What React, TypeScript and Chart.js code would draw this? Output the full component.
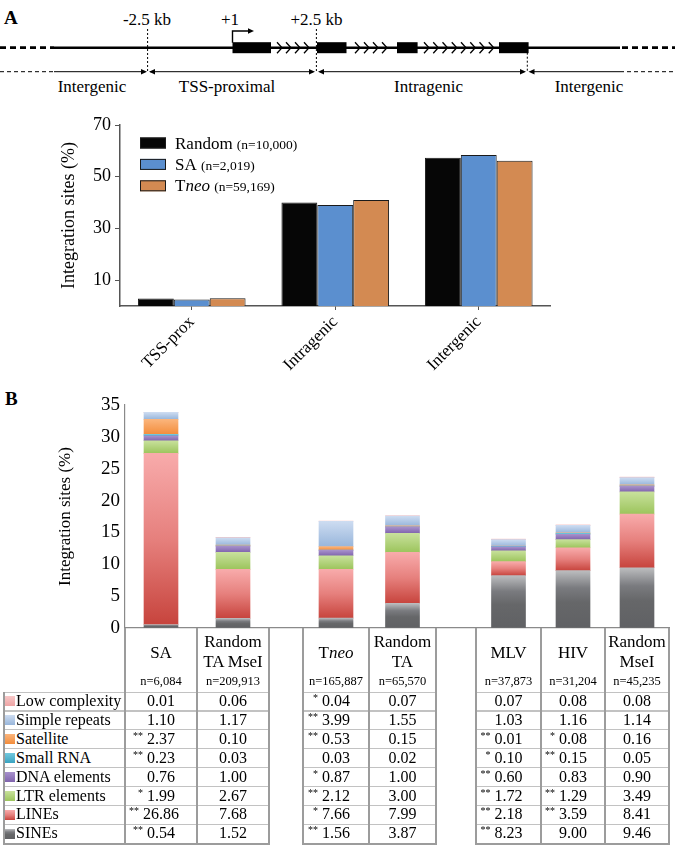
import React, { useEffect, useRef } from "react";
import { Chart, registerables } from "chart.js";

Chart.register(...registerables);

const SERIF = '"Liberation Serif", "Times New Roman", serif';

// ---------------- Panel A data ----------------
const REGIONS = ["TSS-prox", "Intragenic", "Intergenic"];
const A_SERIES = ["Random", "SA", "Tneo"];
const A_SERIES_N = ["(n=10,000)", "(n=2,019)", "(n=59,169)"];
const RANDOM_PCT = [2.9, 40.0, 57.3];
const SA_PCT = [2.5, 39.1, 58.4];
const TNEO_PCT = [3.0, 41.0, 56.2];
const A_Y_TICKS = [10, 30, 50, 70];

// ---------------- Panel B data ----------------
const SAMPLES = ["SA", "Random\nTA MseI", "Tneo", "Random\nTA", "MLV", "HIV", "Random\nMseI"];
const SAMPLE_N = ["n=6,084", "n=209,913", "n=165,887", "n=65,570", "n=37,873", "n=31,204", "n=45,235"];
const REPEAT_CLASSES = ["Low complexity", "Simple repeats", "Satellite", "Small RNA", "DNA elements", "LTR elements", "LINEs", "SINEs"];
const LOW_COMPLEXITY = [0.01, 0.06, 0.04, 0.07, 0.07, 0.08, 0.08];
const SIMPLE_REPEATS = [1.10, 1.17, 3.99, 1.55, 1.03, 1.16, 1.14];
const SATELLITE = [2.37, 0.10, 0.53, 0.15, 0.01, 0.08, 0.16];
const SMALL_RNA = [0.23, 0.03, 0.03, 0.02, 0.10, 0.15, 0.05];
const DNA_ELEMENTS = [0.76, 1.00, 0.87, 1.00, 0.60, 0.83, 0.90];
const LTR_ELEMENTS = [1.99, 2.67, 2.12, 3.00, 1.72, 1.29, 3.49];
const LINES = [26.86, 7.68, 7.66, 7.99, 2.18, 3.59, 8.41];
const SINES = [0.54, 1.52, 1.56, 3.87, 8.23, 9.00, 9.46];
const LOW_COMPLEXITY_SIG = ["", "", "*", "", "", "", ""];
const SIMPLE_REPEATS_SIG = ["", "", "**", "", "", "", ""];
const SATELLITE_SIG = ["**", "", "**", "", "**", "*", ""];
const SMALL_RNA_SIG = ["**", "", "", "", "*", "**", ""];
const DNA_ELEMENTS_SIG = ["", "", "*", "", "**", "", ""];
const LTR_ELEMENTS_SIG = ["*", "", "**", "", "**", "**", ""];
const LINES_SIG = ["**", "", "*", "", "**", "**", ""];
const SINES_SIG = ["**", "", "**", "", "**", "", ""];
const B_Y_MAX = 35;
const B_Y_STEP = 5;

const REPEAT_VALUES = [LOW_COMPLEXITY, SIMPLE_REPEATS, SATELLITE, SMALL_RNA, DNA_ELEMENTS, LTR_ELEMENTS, LINES, SINES];
const REPEAT_SIGS = [LOW_COMPLEXITY_SIG, SIMPLE_REPEATS_SIG, SATELLITE_SIG, SMALL_RNA_SIG, DNA_ELEMENTS_SIG, LTR_ELEMENTS_SIG, LINES_SIG, SINES_SIG];

// ---------------- styles / layout ----------------
const A_COLORS = ["#060606", "#5b8fcf", "#d38a52"];
const REPEAT_STOPS: [number, string][][] = [
  [[0, "#f8c8c8"], [1, "#eda4a4"]],
  [[0, "#cddcf1"], [1, "#98b6db"]],
  [[0, "#fbb57c"], [1, "#f38d3c"]],
  [[0, "#72c8de"], [1, "#3aa3c0"]],
  [[0, "#a791cc"], [1, "#8064ad"]],
  [[0, "#c8e19c"], [1, "#9cc45c"]],
  [[0, "#f8abab"], [0.5, "#e6807d"], [1, "#c7443d"]],
  [[0, "#bcbdbf"], [0.3, "#7a7b7f"], [0.55, "#666769"], [1, "#606164"]],
];
// table columns (layout): widths in px, sample index or -1 for spacer column
const COL_WIDTHS = [72, 72, 34, 66, 67, 40, 65, 64, 64];
const COL_SAMPLE = [0, 1, -1, 2, 3, -1, 4, 5, 6];
const PLOT_LEFT = 125;
const HEADER_TOP = 628;
const ROW_TOP = 692;
const ROW_H = 18.9;
const LABEL_LEFT = 4;

const COL_EDGES_REL: number[] = [0];
COL_WIDTHS.forEach((w, i) => COL_EDGES_REL.push(COL_EDGES_REL[i] + w));
const X_TOTAL = COL_EDGES_REL[COL_EDGES_REL.length - 1];
const SAMPLE_CENTER: number[] = [];
COL_SAMPLE.forEach((s, i) => {
  if (s >= 0) SAMPLE_CENTER[s] = (COL_EDGES_REL[i] + COL_EDGES_REL[i + 1]) / 2;
});

function grad(c: CanvasRenderingContext2D, y0: number, y1: number, stops: [number, string][]) {
  const g = c.createLinearGradient(0, y0, 0, y1 === y0 ? y0 + 1 : y1);
  stops.forEach(([o, col]) => g.addColorStop(o, col));
  return g;
}

const legendPluginA = {
  id: "aLegend",
  afterDraw(chart: any) {
    const { ctx, chartArea } = chart;
    ctx.save();
    chart.data.datasets.forEach((ds: any, i: number) => {
      const x = chartArea.left + 20;
      const yc = chartArea.top + 18 + i * 21.4;
      ctx.fillStyle = ds.backgroundColor;
      ctx.fillRect(x, yc - 5.5, 26, 11);
      ctx.strokeStyle = "#1a1a1a";
      ctx.lineWidth = 1;
      ctx.strokeRect(x + 0.5, yc - 5, 25, 10);
      ctx.fillStyle = "#000";
      ctx.textBaseline = "alphabetic";
      ctx.textAlign = "left";
      let tx = x + 35;
      const by = yc + 5.5;
      const name: string = ds.label;
      const parts = name === "Tneo" ? [["T", false], ["neo", true]] : [[name, false]];
      parts.forEach(([t, it]: any) => {
        ctx.font = `${it ? "italic " : ""}17px ${SERIF}`;
        ctx.fillText(t, tx, by);
        tx += ctx.measureText(t).width;
      });
      ctx.font = `17px ${SERIF}`;
      tx += ctx.measureText(" ").width;
      ctx.font = `13.5px ${SERIF}`;
      ctx.fillText(A_SERIES_N[i], tx, by);
    });
    ctx.restore();
  },
};

function GeneDiagram() {
  const Y = 47.7;
  const AY = 71.7;
  const exons = [[232.5, 271], [317, 346.5], [397, 417.6], [499, 528.6]];
  const chev = [[276, 312, 4], [354, 390, 4], [423, 497, 8]];
  const head = (x: number, y: number, dir: number, k: string) => (
    <polygon key={k} points={`${x},${y} ${x - dir * 6},${y - 2.8} ${x - dir * 6},${y + 2.8}`} fill="#000" />
  );
  const els: any[] = [];
  chev.forEach(([a, b, n], gi) => {
    const sp = (b - a) / n;
    for (let i = 0; i < n; i++) {
      const x = a + i * sp + 1;
      els.push(<polyline key={`c${gi}-${i}`} points={`${x},${Y - 5.5} ${x + 5},${Y} ${x},${Y + 5.5}`} fill="none" stroke="#000" strokeWidth={1.3} />);
    }
  });
  const txt = { fontFamily: SERIF, fontSize: 17 } as any;
  return (
    <svg width={675} height={100} style={{ position: "absolute", left: 0, top: 0 }}>
      <text x={4} y={24} style={{ fontFamily: SERIF, fontSize: 19, fontWeight: "bold" }}>A</text>
      <text x={147} y={25} textAnchor="middle" style={txt}>-2.5 kb</text>
      <text x={230} y={25} textAnchor="middle" style={txt}>+1</text>
      <text x={316.5} y={25} textAnchor="middle" style={txt}>+2.5 kb</text>
      <line x1={0} y1={Y} x2={54} y2={Y} stroke="#000" strokeWidth={2.8} strokeDasharray="6 4" />
      <line x1={54} y1={Y} x2={620} y2={Y} stroke="#000" strokeWidth={2.6} />
      <line x1={622} y1={Y} x2={675} y2={Y} stroke="#000" strokeWidth={2.8} strokeDasharray="6 4" />
      {exons.map(([a, b], i) => <rect key={`e${i}`} x={a} y={Y - 5.5} width={b - a} height={11} fill="#000" />)}
      {els}
      <polyline points={`232.5,${Y - 5} 232.5,31 248,31`} fill="none" stroke="#000" strokeWidth={1.4} />
      {head(254, 31, 1, "tss")}
      <line x1={147.6} y1={29} x2={147.6} y2={AY} stroke="#000" strokeWidth={1} strokeDasharray="2 2" />
      <line x1={316.4} y1={29} x2={316.4} y2={AY} stroke="#000" strokeWidth={1} strokeDasharray="2 2" />
      <line x1={527.3} y1={Y + 5} x2={527.3} y2={AY} stroke="#000" strokeWidth={1} strokeDasharray="2 2" />
      <line x1={0} y1={AY} x2={54} y2={AY} stroke="#000" strokeWidth={1} strokeDasharray="4 3" />
      <line x1={54} y1={AY} x2={145} y2={AY} stroke="#000" strokeWidth={1} />
      {head(147, AY, 1, "h1")}
      <line x1={150} y1={AY} x2={313} y2={AY} stroke="#000" strokeWidth={1} />
      {head(149, AY, -1, "h2")}
      {head(315, AY, 1, "h3")}
      <line x1={320} y1={AY} x2={524} y2={AY} stroke="#000" strokeWidth={1} />
      {head(318, AY, -1, "h4")}
      {head(526, AY, 1, "h5")}
      <line x1={531} y1={AY} x2={620} y2={AY} stroke="#000" strokeWidth={1} />
      {head(528.5, AY, -1, "h6")}
      <line x1={620} y1={AY} x2={675} y2={AY} stroke="#000" strokeWidth={1} strokeDasharray="4 3" />
      <text x={92} y={91.5} textAnchor="middle" style={txt}>Intergenic</text>
      <text x={227} y={91.5} textAnchor="middle" style={txt}>TSS-proximal</text>
      <text x={428.5} y={91.5} textAnchor="middle" style={txt}>Intragenic</text>
      <text x={589} y={91.5} textAnchor="middle" style={txt}>Intergenic</text>
    </svg>
  );
}

function SampleName({ name }: { name: string }) {
  if (name === "Tneo") return <span>T<i>neo</i></span>;
  return <span>{name}</span>;
}

function Table() {
  const xs = COL_EDGES_REL.map((v) => PLOT_LEFT + v);
  const nRows = REPEAT_CLASSES.length;
  const bottom = ROW_TOP + ROW_H * nRows;
  const els: any[] = [];
  const VCOL = "#9c9c9c";
  const HCOL = "#c2c2c2";
  for (let r = 0; r <= nRows; r++) {
    const y = ROW_TOP + r * ROW_H;
    const segs: [number, number][] = [[LABEL_LEFT, xs[0]]];
    COL_SAMPLE.forEach((s, i) => { if (s >= 0) segs.push([xs[i], xs[i + 1]]); });
    segs.forEach(([a, b], si) => els.push(
      <div key={`h${r}-${si}`} style={{ position: "absolute", left: a, top: y - 0.5, width: b - a, height: r === nRows ? 2 : 1.2, background: r === nRows ? VCOL : HCOL }} />
    ));
  }
  xs.forEach((x, i) => els.push(
    <div key={`v${i}`} style={{ position: "absolute", left: x - 1, top: HEADER_TOP, width: 2, height: bottom - HEADER_TOP + 1.5, background: VCOL }} />
  ));
  els.push(<div key="vl" style={{ position: "absolute", left: LABEL_LEFT - 1, top: ROW_TOP - 0.5, width: 2, height: bottom - ROW_TOP + 2, background: VCOL }} />);
  COL_SAMPLE.forEach((s, i) => {
    if (s < 0) return;
    const lines = SAMPLES[s].split("\n");
    const left = xs[i];
    const w = xs[i + 1] - xs[i];
    const centers = lines.length === 1 ? [653] : [642, 662];
    lines.forEach((ln, li) => els.push(
      <div key={`hn${s}-${li}`} style={{ position: "absolute", left, width: w, top: centers[li] - 10, height: 20, lineHeight: "20px", textAlign: "center", fontSize: 17, whiteSpace: "nowrap" }}>
        <SampleName name={ln} />
      </div>
    ));
    els.push(
      <div key={`hnn${s}`} style={{ position: "absolute", left, width: w, top: 681 - 8, height: 16, lineHeight: "16px", textAlign: "center", fontSize: 12.5, whiteSpace: "nowrap" }}>
        {SAMPLE_N[s]}
      </div>
    );
  });
  REPEAT_CLASSES.forEach((name, r) => {
    const top = ROW_TOP + r * ROW_H;
    const stops = REPEAT_STOPS[r];
    els.push(
      <div key={`sq${r}`} style={{ position: "absolute", left: 5, top: top + ROW_H / 2 - 5, width: 10, height: 10, background: `linear-gradient(to bottom, ${stops.map(([o, c]) => `${c} ${o * 100}%`).join(", ")})` }} />
    );
    els.push(
      <div key={`lb${r}`} style={{ position: "absolute", left: 16, top, height: ROW_H, lineHeight: `${ROW_H}px`, fontSize: 16, whiteSpace: "nowrap" }}>{name}</div>
    );
    COL_SAMPLE.forEach((s, i) => {
      if (s < 0) return;
      const v = REPEAT_VALUES[r][s];
      const sig = REPEAT_SIGS[r][s];
      els.push(
        <div key={`c${r}-${i}`} style={{ position: "absolute", left: xs[i], width: xs[i + 1] - xs[i], top, height: ROW_H, display: "flex", justifyContent: "center", alignItems: "center", fontSize: 16, lineHeight: `${ROW_H}px` }}>
          <span style={{ position: "relative" }}>
            {sig ? <span style={{ position: "absolute", right: "100%", marginRight: 4, top: 1, fontSize: 10, lineHeight: "10px", whiteSpace: "nowrap" }}>{sig}</span> : null}
            {v.toFixed(2)}
          </span>
        </div>
      );
    });
  });
  return <>{els}</>;
}

export default function App() {
  const refA = useRef<HTMLCanvasElement>(null);
  const refB = useRef<HTMLCanvasElement>(null);

  useEffect(() => {
    const aValues = [RANDOM_PCT, SA_PCT, TNEO_PCT];
    const chartA = new Chart(refA.current as HTMLCanvasElement, {
      type: "bar",
      data: {
        labels: REGIONS,
        datasets: A_SERIES.map((label, i) => ({
          label,
          data: aValues[i],
          backgroundColor: A_COLORS[i],
          borderColor: "#1a1a1a",
          borderWidth: 1,
          categoryPercentage: 0.75,
          barPercentage: 1,
        })),
      },
      options: {
        animation: false,
        responsive: false,
        layout: { padding: { top: 15, right: 124.5, left: 0, bottom: 0 } },
        plugins: { legend: { display: false }, tooltip: { enabled: false } },
        scales: {
          x: {
            grid: { drawOnChartArea: false, tickLength: 4, color: "#555", offset: false },
            border: { color: "#555", width: 1.5 },
            ticks: { minRotation: 45, maxRotation: 45, color: "#000", padding: 2, font: { family: SERIF, size: 17 } },
            afterFit: (s: any) => { s.height = 69; },
          },
          y: {
            min: 0,
            max: 70,
            afterBuildTicks: (s: any) => { s.ticks = A_Y_TICKS.map((v) => ({ value: v })); },
            grid: { drawOnChartArea: false, tickLength: 5, color: "#555" },
            border: { color: "#555", width: 1.5 },
            ticks: { color: "#000", padding: 4, font: { family: SERIF, size: 18 } },
            title: { display: true, text: "Integration sites (%)", color: "#000", font: { family: SERIF, size: 18 }, padding: { top: 58, bottom: 0 } },
            afterFit: (s: any) => { s.width = 120; },
          },
        },
      } as any,
      plugins: [legendPluginA],
    });

    const datasets: any[] = [];
    for (let k = REPEAT_CLASSES.length - 1; k >= 0; k--) {
      const stops = REPEAT_STOPS[k];
      datasets.push({
        label: REPEAT_CLASSES[k],
        stack: "s",
        data: REPEAT_VALUES[k].map((v, s) => ({ x: SAMPLE_CENTER[s], y: v })),
        barThickness: 34,
        borderWidth: 0,
        backgroundColor: (ctx: any) => {
          const fallback = stops[stops.length - 1][1];
          const chart = ctx.chart;
          const ys = chart && chart.scales && chart.scales.y;
          if (ctx.type !== "data" || !ys || !ctx.raw) return fallback;
          let base = 0;
          for (let d = 0; d < ctx.datasetIndex; d++) base += chart.data.datasets[d].data[ctx.dataIndex].y;
          const v = ctx.raw.y;
          const y0 = ys.getPixelForValue(base + v);
          const y1 = ys.getPixelForValue(base);
          if (!isFinite(y0) || !isFinite(y1)) return fallback;
          return grad(chart.ctx, y0, y1, stops);
        },
      });
    }
    const chartB = new Chart(refB.current as HTMLCanvasElement, {
      type: "bar",
      data: { datasets },
      options: {
        animation: false,
        responsive: false,
        layout: { padding: { top: 20, right: 6, left: 0, bottom: 0 } },
        plugins: { legend: { display: false }, tooltip: { enabled: false } },
        scales: {
          x: {
            type: "linear",
            min: 0,
            max: X_TOTAL,
            stacked: true,
            offset: false,
            afterBuildTicks: (s: any) => { s.ticks = COL_EDGES_REL.map((v) => ({ value: v })); },
            grid: { drawOnChartArea: false, drawTicks: true, tickLength: 5, color: "#8a8a8a", offset: false },
            border: { color: "#8a8a8a", width: 1.2 },
            ticks: { callback: () => "", padding: 0 },
            afterFit: (s: any) => { s.height = 20; },
          },
          y: {
            stacked: true,
            min: 0,
            max: B_Y_MAX,
            ticks: { stepSize: B_Y_STEP, color: "#000", padding: 5, font: { family: SERIF, size: 19 } },
            grid: { drawOnChartArea: false, drawTicks: false },
            border: { color: "#8a8a8a", width: 1.2 },
            title: { display: true, text: "Integration sites (%)", color: "#000", font: { family: SERIF, size: 17 }, padding: { top: 55, bottom: 0 } },
            afterFit: (s: any) => { s.width = PLOT_LEFT; },
          },
        },
      } as any,
    });
    chartB.update();
    return () => { chartA.destroy(); chartB.destroy(); };
  }, []);

  return (
    <div style={{ position: "absolute", left: 0, top: 0, width: 675, height: 853, background: "#fff", color: "#000", fontFamily: SERIF, overflow: "hidden" }}>
      <GeneDiagram />
      <canvas ref={refA} width={675} height={265} style={{ position: "absolute", left: 0, top: 110 }} />
      <div style={{ position: "absolute", left: 5, top: 390, fontSize: 19, lineHeight: "18px", fontWeight: "bold" }}>B</div>
      <canvas ref={refB} width={675} height={263} style={{ position: "absolute", left: 0, top: 385 }} />
      <Table />
    </div>
  );
}
